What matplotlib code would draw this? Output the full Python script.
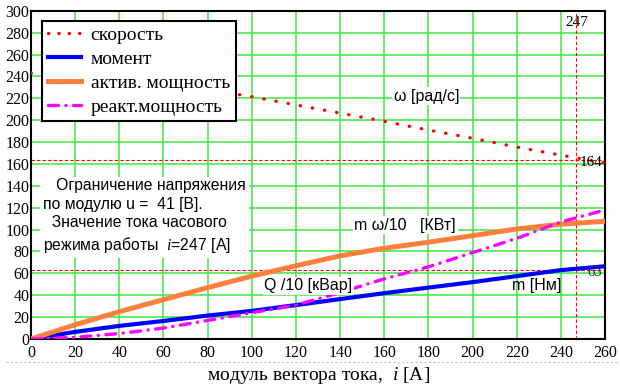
import matplotlib

matplotlib.use("Agg")
import matplotlib.pyplot as plt
from matplotlib.lines import Line2D

plt.rcParams["font.family"] = ["Liberation Serif", "DejaVu Serif"]
plt.rcParams["mathtext.fontset"] = "custom"
plt.rcParams["mathtext.it"] = "Liberation Serif:italic"
plt.rcParams["mathtext.rm"] = "Liberation Serif"

# current magnitude, A
current = [0, 20, 40, 60, 80, 100, 120, 140, 160, 180, 200, 220, 240, 260]
# speed, rad/s
speed = [243, 240, 236, 232, 228, 221.5, 214, 206.5, 199, 191, 183.5, 175.5, 168, 161]
# torque, Nm
moment = [0, 6.5, 12, 16.5, 21.4, 25.7, 31, 36.5, 41.9, 47, 52, 57.5, 63, 66.5]
# active power / 10, kW
active = [0, 13, 25, 36, 47, 57.5, 67, 76, 83, 88.5, 94.5, 100.6, 105, 107.6]
# reactive power / 10, kvar
reactive = [0, 1.5, 5, 10, 17, 24, 31, 42.5, 55, 66, 79, 92, 107, 118]

i_nom = 247
w_nom = 164
m_nom = 63

GREEN = "#3de83d"
RED = "#ff0000"
BLUE = "#0000ff"
ORANGE = "#ff7f3f"
MAGENTA = "#ff00ff"

fig = plt.figure(figsize=(6.2, 3.87), dpi=100)
ax = fig.add_axes([0.05, 0.124, 0.926, 0.848])

ax.plot(current, speed, color=RED, lw=2.4, linestyle=(0, (0.1, 3.6)),
        dash_capstyle="round", label="скорость", zorder=3)
ax.plot(current, moment, color=BLUE, lw=3.0, label="момент", zorder=3)
ax.plot(current, active, color=ORANGE, lw=3.6, label="актив. мощность", zorder=3)
ax.plot(current, reactive, color=MAGENTA, lw=2.4,
        linestyle=(0, (3.0, 2.2, 0.1, 2.2)), dash_capstyle="round",
        label="реакт.мощность", zorder=4)

ax.axhline(w_nom, color=RED, lw=0.8, linestyle=(0, (3, 2)), zorder=2)
ax.axhline(m_nom, color=RED, lw=0.8, linestyle=(0, (3, 2)), zorder=2)
ax.axvline(i_nom, color=RED, lw=0.8, linestyle=(0, (3, 2)), zorder=2)

ax.set_xlim(0, 260)
ax.set_ylim(0, 300)
ax.set_xticks(range(0, 261, 20))
ax.set_yticks(range(0, 301, 20))
ax.grid(True, color=GREEN, lw=1.1)
ax.set_axisbelow(True)
ax.tick_params(length=0, labelsize=11.5)
ax.tick_params(axis="y", pad=1)
ax.tick_params(axis="x", pad=4)
for s in ax.spines.values():
    s.set_linewidth(1.5)
    s.set_color("black")

ax.set_xlabel("модуль вектора тока,  $i$ [A]", fontsize=14, labelpad=3)

# value labels at the nominal point
ax.text(i_nom, 289, str(i_nom), fontsize=11, ha="center", va="center", zorder=5)
ax.text(253.5, 161.5, str(w_nom), fontsize=11, ha="center", va="center", zorder=5)
ax.text(255.5, 60.5, str(m_nom), fontsize=10.5, ha="center", va="center",
        color="#333333", zorder=5)

box = dict(facecolor="white", edgecolor="none", pad=1)
sans = ["Liberation Sans", "DejaVu Sans"]
ax.text(179, 222, "ω [рад/с]", family=sans, fontsize=11.5, ha="center",
        va="center", bbox=box, zorder=5)
ax.text(169.5, 104, "m ω/10   [КВт]", family=sans, fontsize=11.5, ha="center",
        va="center", bbox=box, zorder=5)
ax.text(125.5, 48.6, "Q /10 [кВар]", family=sans, fontsize=11.5, ha="center",
        va="center", bbox=box, zorder=5)
ax.text(229, 48.6, "m [Нм]", family=sans, fontsize=11.5, ha="center",
        va="center", zorder=5)

ax.text(5.5, 147,
        "   Ограничение напряжения\nпо модулю u =  41 [В].\n  Значение тока часового\nрежима работы  $i$=247 [A]",
        family=sans, fontsize=11.3, ha="left", va="top", linespacing=1.3,
        bbox=dict(facecolor="white", edgecolor="none", pad=2), zorder=5)

handles = [
    Line2D([], [], color=RED, lw=2.4, linestyle=(0, (0.1, 3.0)), dash_capstyle="round"),
    Line2D([], [], color=BLUE, lw=3.0),
    Line2D([], [], color=ORANGE, lw=3.6),
    Line2D([], [], color=MAGENTA, lw=2.4, linestyle=(0, (3.0, 2.2, 0.1, 2.2)),
           dash_capstyle="round"),
]
leg = ax.legend(handles, ["скорость", "момент", "актив. мощность", "реакт.мощность"],
                loc="upper left", bbox_to_anchor=(0.019, 0.97), borderaxespad=0,
                fontsize=14, handlelength=1.7, handletextpad=0.5,
                labelspacing=0.32, borderpad=0.3, fancybox=False, framealpha=1)
leg.get_frame().set_edgecolor("black")
leg.get_frame().set_linewidth(1.5)
leg.set_zorder(6)

fig.add_artist(Line2D([0.01, 1.0], [0.065, 0.065], color="#c0c0c0", lw=0.8,
                      linestyle=(0, (2, 2))))

fig.savefig("out.png", dpi=100)
plt.close(fig)
